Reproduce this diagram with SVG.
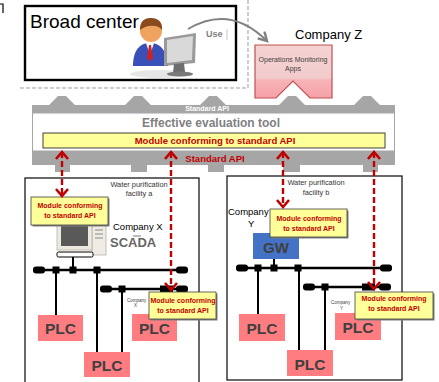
<svg xmlns="http://www.w3.org/2000/svg" width="439" height="382" viewBox="0 0 439 382">
  <style>
    text { font-family: "Liberation Sans", Arial, sans-serif; }
    .frame { fill: #ffffff; stroke: #1a1a1a; stroke-width: 1.3; }
    .plc { fill: #ff7c80; }
    .plc-t { font-size: 15.5px; font-weight: bold; fill: #404040; text-anchor: middle; }
    .mod { fill: #ffff99; stroke: #404040; stroke-width: 0.8; }
    .mod-sh { fill: #7f7f7f; }
    .mod-t { font-size: 7px; font-weight: bold; fill: #c00000; text-anchor: middle; }
    .bus { stroke: #000000; stroke-width: 2.6; fill: none; }
    .drop { stroke: #000000; stroke-width: 2; fill: none; }
    .term { fill: #000000; }
    .tap { fill: #000000; }
    .api { stroke: #c00000; stroke-width: 2.4; stroke-dasharray: 6 3; fill: none; marker-start: url(#chev); marker-end: url(#chev); }
    .band { fill: #a6a6a6; }
    .small { font-size: 7.4px; fill: #333333; text-anchor: middle; }
    .tiny { font-size: 4.5px; fill: #404040; }
  </style>
  <defs>
    <marker id="chev" viewBox="-1 -7 10 14" refX="7" refY="0" markerWidth="10" markerHeight="14" markerUnits="userSpaceOnUse" orient="auto-start-reverse" overflow="visible">
      <path d="M0,-6 L7,0 L0,6" fill="none" stroke="#c00000" stroke-width="2.6"/>
    </marker>
    <marker id="grey-head" viewBox="0 0 10 10" refX="8" refY="5" markerWidth="12" markerHeight="12" markerUnits="userSpaceOnUse" orient="auto">
      <path d="M1,1 L8,5 L1,9" fill="none" stroke="#808080" stroke-width="2"/>
    </marker>
    <linearGradient id="app-fill" x1="0" y1="0" x2="0" y2="1">
      <stop offset="0" stop-color="#f5d3d3"/>
      <stop offset="0.62" stop-color="#f2cccc"/>
      <stop offset="0.66" stop-color="#f6b4b8"/>
      <stop offset="1" stop-color="#f7a0a8"/>
    </linearGradient>
  </defs>

  <!-- corner tick -->
  <path d="M0,4 H3 V13" fill="none" stroke="#000" stroke-width="1.2"/>

  <!-- dashed boundary of the centre area -->
  <path d="M248,0 V88 H20" fill="none" stroke="#bfbfbf" stroke-width="1.5" stroke-dasharray="4 2"/>

  <!-- Broad center -->
  <g id="broad-center">
    <rect x="25" y="6" width="211" height="74" fill="#ffffff" stroke="#000" stroke-width="2.4"/>
    <text x="30" y="28" font-size="19" fill="#000">Broad center</text>
    <!-- operator at a terminal -->
    <g id="operator">
      <ellipse cx="160" cy="74" rx="30" ry="4" fill="#e6e6e6"/>
      <path d="M133,66 C133,50 140,43 150,43 C160,43 167,50 168,66 Z" fill="#3a4fb8"/>
      <path d="M146,43 L150,55 L154,43 Z" fill="#ffffff"/>
      <path d="M149,45 L151,45 L153,58 L150,61 L147,58 Z" fill="#d02020"/>
      <circle cx="151" cy="31" r="11" fill="#f0a35e"/>
      <path d="M140,30 C140,19 147,18 151,18 C158,18 163,22 162,30 C158,24 146,25 140,30 Z" fill="#8a4a1e"/>
      <path d="M164,38 L196,33 L195,63 L164,66 Z" fill="#9a9a9a"/>
      <path d="M167,40 L193,36 L192,60 L167,63 Z" fill="#d9d9d9"/>
      <path d="M174,64 L184,63 L185,72 L173,73 Z" fill="#6d6d6d"/>
      <ellipse cx="180" cy="74" rx="13" ry="2.5" fill="#7a7a7a"/>
    </g>
    <text x="206" y="37" font-size="9" font-weight="bold" fill="#7f7f7f">Use</text>
    <line x1="227" y1="29" x2="227" y2="40" stroke="#c8c8c8" stroke-width="1"/>
  </g>

  <!-- Company Z -->
  <g id="company-z">
    <text x="295" y="39" font-size="13" fill="#000">Company Z</text>
  </g>

  <!-- Effective evaluation tool -->
  <g id="eval-tool">
    <path class="band" d="M32,105 H49 L58,96 H66 L75,105 H125 L134,96 H142 L151,105 H200 L209,96 H217 L226,105 H279 L288,96 H296 L305,105 H354 L363,96 H371 L380,105 H395 V114 H32 Z"/>
    <rect x="32.5" y="113" width="362" height="38" fill="#ffffff" stroke="#a6a6a6" stroke-width="1"/>
    <path class="band" d="M32,151 H395 V165 H378 V172 H363 V165 H300 V172 H283 V165 H224 V172 H208 V165 H147 V172 H131 V165 H70 V172 H55 V165 H32 Z"/>
    <text x="207" y="110.5" font-size="7" font-weight="bold" fill="#ffffff" text-anchor="middle">Standard API</text>
    <text x="211" y="127" font-size="12" font-weight="bold" fill="#7f7f7f" text-anchor="middle">Effective evaluation tool</text>
    <rect x="43" y="133" width="342" height="15" fill="#ffff99" stroke="#404040" stroke-width="1"/>
    <text x="215" y="144" font-size="9.5" font-weight="bold" fill="#c00000" text-anchor="middle">Module conforming to standard API</text>
    <text x="215" y="162" font-size="9.5" font-weight="bold" fill="#c00000" text-anchor="middle">Standard API</text>
  </g>

  <!-- Operations Monitoring Apps -->
  <g id="apps">
    <path d="M255,45 H332 V98 H310 L293,81 L276,98 H255 Z" fill="url(#app-fill)" stroke="#c0504d" stroke-width="1.2"/>
    <text x="293" y="62" font-size="7" fill="#404040" text-anchor="middle">Operations Monitoring</text>
    <text x="293" y="71" font-size="7" fill="#404040" text-anchor="middle">Apps</text>
  </g>

  <!-- Water purification facility a -->
  <g id="facility-a">
    <rect class="frame" x="25" y="178" width="174" height="210"/>
    <text class="small" x="139" y="187">Water purification</text>
    <text class="small" x="139" y="196">facility a</text>
    <text x="113" y="230" font-size="9.5" fill="#000">Company X</text>
    <line x1="133" y1="236" x2="141" y2="236" stroke="#555" stroke-width="0.8"/>
    <text x="110" y="247" font-size="13" font-weight="bold" fill="#666666">SCADA</text>
    <!-- SCADA workstation -->
    <g id="scada-pc">
      <rect x="92" y="224" width="14" height="31" fill="#efece4" stroke="#b5b2a8" stroke-width="0.8"/>
      <line x1="95" y1="230" x2="103" y2="230" stroke="#888" stroke-width="1"/>
      <line x1="95" y1="234" x2="103" y2="234" stroke="#888" stroke-width="1"/>
      <line x1="95" y1="238" x2="103" y2="238" stroke="#888" stroke-width="1"/>
      <rect x="57" y="219" width="35" height="31" fill="#ece9df" stroke="#b5b2a8" stroke-width="0.8"/>
      <rect x="61" y="222" width="27" height="24" fill="#595959"/>
      <rect x="57" y="252" width="36" height="5" rx="1.5" fill="#ffffff" stroke="#000" stroke-width="1"/>
    </g>
    <text class="tiny" x="127" y="302">Company</text>
    <text class="tiny" x="134" y="307">X</text>
  </g>

  <!-- Water purification facility b -->
  <g id="facility-b">
    <rect class="frame" x="227" y="176" width="175" height="204"/>
    <text class="small" x="316" y="185">Water purification</text>
    <text class="small" x="316" y="195">facility b</text>
    <text x="228" y="215" font-size="9.5" fill="#000">Company</text>
    <text x="248" y="227" font-size="9.5" fill="#000">Y</text>
    <text class="tiny" x="331" y="304">Company</text>
    <text class="tiny" x="340" y="310">Y</text>
  </g>

  <!-- field networks -->
  <g id="connectors">
    <!-- facility a -->
    <line class="bus" x1="36" y1="270" x2="186" y2="270"/>
    <line class="drop" x1="73" y1="257" x2="73" y2="270"/>
    <line class="drop" x1="56" y1="270" x2="56" y2="315"/>
    <line class="drop" x1="97" y1="270" x2="97" y2="352"/>
    <line class="bus" x1="103" y1="289" x2="186" y2="289"/>
    <line class="drop" x1="122" y1="289" x2="122" y2="352"/>
    <rect class="term" x="33" y="266.5" width="12" height="7" rx="3"/>
    <rect class="term" x="176" y="266.5" width="12" height="7" rx="3"/>
    <rect class="tap" x="52.5" y="266.5" width="7" height="7"/>
    <rect class="tap" x="69.5" y="266.5" width="7" height="7"/>
    <rect class="tap" x="93.5" y="266.5" width="7" height="7"/>
    <rect class="term" x="100" y="285.5" width="12" height="7" rx="3"/>
    <rect class="term" x="176" y="285.5" width="12" height="7" rx="3"/>
    <rect class="tap" x="118.5" y="285.5" width="7" height="7"/>
    <rect class="tap" x="160" y="285.5" width="13" height="7"/>
    <!-- facility b -->
    <line class="bus" x1="239" y1="268" x2="390" y2="268"/>
    <line class="drop" x1="274" y1="259" x2="274" y2="268"/>
    <line class="drop" x1="258" y1="268" x2="258" y2="314"/>
    <line class="drop" x1="299" y1="268" x2="299" y2="350"/>
    <line class="bus" x1="306" y1="287" x2="389" y2="287"/>
    <line class="drop" x1="325" y1="287" x2="325" y2="350"/>
    <rect class="term" x="236" y="264.5" width="12" height="7" rx="3"/>
    <rect class="term" x="380" y="264.5" width="12" height="7" rx="3"/>
    <rect class="tap" x="254.5" y="264.5" width="7" height="7"/>
    <rect class="tap" x="270.5" y="264.5" width="7" height="7"/>
    <rect class="tap" x="294.5" y="264.5" width="7" height="7"/>
    <rect class="term" x="303" y="283.5" width="12" height="7" rx="3"/>
    <rect class="term" x="379" y="283.5" width="12" height="7" rx="3"/>
    <rect class="tap" x="321.5" y="283.5" width="7" height="7"/>
    <rect class="tap" x="362" y="283.5" width="13" height="7"/>

    <!-- usage arrow from the centre to the apps -->
    <path d="M188,29 Q230,4 267,41" fill="none" stroke="#808080" stroke-width="2" marker-end="url(#grey-head)"/>
  </g>

  <!-- controllers -->
  <g id="plc-a1"><rect class="plc" x="38" y="315" width="45" height="26"/><text class="plc-t" x="60.5" y="334">PLC</text></g>
  <g id="plc-a2"><rect class="plc" x="84" y="352" width="46" height="25"/><text class="plc-t" x="107" y="371">PLC</text></g>
  <g id="plc-a3"><rect class="plc" x="132" y="314" width="45" height="27"/><text class="plc-t" x="154.5" y="334">PLC</text></g>
  <g id="plc-b1"><rect class="plc" x="239" y="314" width="46" height="27"/><text class="plc-t" x="262" y="334">PLC</text></g>
  <g id="plc-b2"><rect class="plc" x="287" y="350" width="46" height="26"/><text class="plc-t" x="310" y="369.5">PLC</text></g>
  <g id="plc-b3"><rect class="plc" x="335" y="313" width="46" height="27"/><text class="plc-t" x="358" y="332.5">PLC</text></g>

  <!-- gateway -->
  <g id="gw">
    <rect x="253" y="233" width="46" height="26" fill="#4472c4"/>
    <text x="276" y="253" font-size="15" font-weight="bold" fill="#404040" text-anchor="middle">GW</text>
  </g>

  <!-- standard-API modules -->
  <g id="module-a-scada">
    <rect class="mod-sh" x="32.5" y="198.5" width="77" height="28"/>
    <rect class="mod" x="31" y="197" width="77" height="28"/>
    <text class="mod-t" x="70" y="208">Module conforming</text>
    <text class="mod-t" x="70" y="218">to standard API</text>
  </g>
  <g id="module-a-field">
    <rect class="mod-sh" x="150.5" y="293.5" width="67" height="27"/>
    <rect class="mod" x="149" y="292" width="67" height="27"/>
    <text class="mod-t" x="183" y="302.5">Module conforming</text>
    <text class="mod-t" x="183" y="312.5">to standard API</text>
  </g>
  <g id="module-b-gw">
    <rect class="mod-sh" x="271.5" y="210.5" width="77" height="28"/>
    <rect class="mod" x="270" y="209" width="77" height="28"/>
    <text class="mod-t" x="309" y="221">Module conforming</text>
    <text class="mod-t" x="309" y="231">to standard API</text>
  </g>
  <g id="module-b-field">
    <rect class="mod-sh" x="356.5" y="293.5" width="78" height="27"/>
    <rect class="mod" x="355" y="292" width="78" height="27"/>
    <text class="mod-t" x="394" y="301">Module conforming</text>
    <text class="mod-t" x="394" y="311">to standard API</text>
  </g>

  <!-- standard API links -->
  <g id="api-links">
    <line class="api" x1="62" y1="152" x2="62" y2="196"/>
    <line class="api" x1="171" y1="152" x2="171" y2="290"/>
    <line class="api" x1="283" y1="152" x2="283" y2="207"/>
    <line class="api" x1="374" y1="152" x2="374" y2="289"/>
  </g>
</svg>
